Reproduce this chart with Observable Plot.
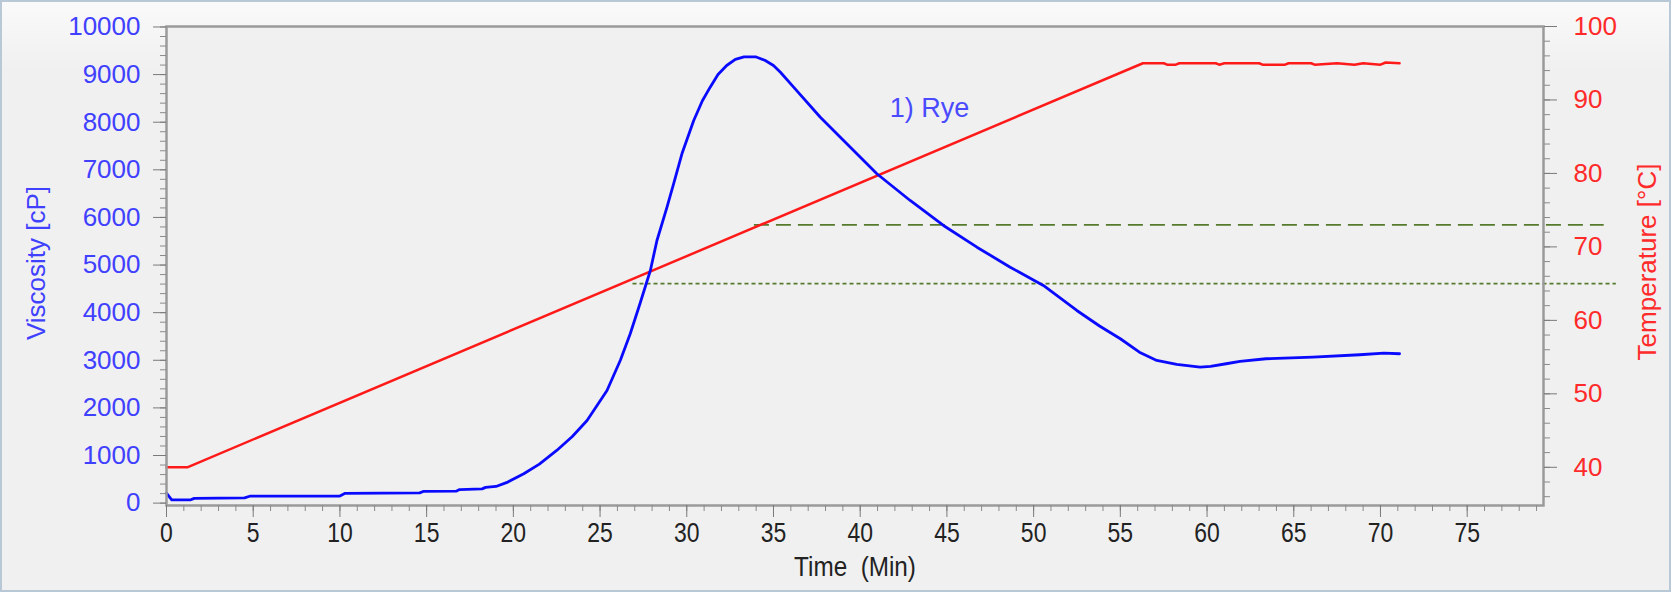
<!DOCTYPE html>
<html><head><meta charset="utf-8">
<script src="https://cdn.jsdelivr.net/npm/d3@7"></script>
<script src="https://cdn.jsdelivr.net/npm/@observablehq/plot@0.6"></script>
<style>
html,body{margin:0;padding:0;background:#f0f0f0;}
#wrap{position:relative;width:1671px;height:592px;background:linear-gradient(#fafafa,#f0f0f0 70px);overflow:hidden;}
#border{position:absolute;left:0;top:0;width:1671px;height:592px;box-sizing:border-box;border:2px solid #b9c8d6;pointer-events:none;}
svg text{white-space:pre;}
</style></head><body><div id="wrap"><div id="border"></div></div>
<script>
// Viscosity curve (1) Rye), time in minutes, viscosity in cP
const timeMin = [0, 0.3, 1.4, 1.6, 4.5, 4.8, 10.0, 10.3, 14.6, 14.8, 16.7, 16.9, 18.2, 18.4, 19.0, 19.6, 20.6, 21.5, 22.5, 23.4, 24.25, 25.4, 26.17, 26.74, 27.3, 27.9, 28.28, 28.86, 29.24, 29.72, 30.4, 30.9, 31.35, 31.8, 32.3, 32.8, 33.3, 34.0, 34.5, 35.0, 35.4, 36.16, 37.7, 39.04, 40.96, 42.88, 44.8, 46.73, 48.65, 50.56, 52.49, 53.8, 55.0, 56.1, 57.1, 58.25, 59.6, 60.2, 61.1, 61.9, 63.4, 66.1, 68.8, 70.2, 71.1];
const viscosity = [210, 70, 70, 100, 110, 145, 150, 205, 215, 245, 250, 285, 300, 330, 350, 430, 617, 820, 1106, 1400, 1736, 2366, 3000, 3557, 4187, 4886, 5516, 6215, 6707, 7337, 8036, 8450, 8736, 9000, 9191, 9320, 9370, 9370, 9300, 9191, 9050, 8736, 8105, 7616, 6917, 6356, 5831, 5375, 4955, 4571, 4046, 3720, 3452, 3170, 2996, 2912, 2855, 2870, 2927, 2975, 3032, 3065, 3116, 3149, 3137];
// Temperature profile
const tempTime = [0, 1.2, 56.3, 57.5, 57.7, 58.2, 58.4, 60.5, 60.7, 61.0, 63.0, 63.2, 64.5, 64.7, 66.0, 66.2, 67.5, 68.5, 69.0, 70.0, 70.3, 71.1];
const temperature = [40, 40, 95, 95, 94.8, 94.8, 95, 95, 94.8, 95, 95, 94.8, 94.8, 95, 95, 94.8, 95, 94.8, 95, 94.8, 95.1, 95];
// Reference temperature lines (dashed, dotted)
const refTemp = [73, 65];
const refFrom = [33.9, 26.9];
const refTo = [82.9, 83.6];
const refDash = ["15,7", "4,3"];
// Ticks and labels
const xTicks = [0, 5, 10, 15, 20, 25, 30, 35, 40, 45, 50, 55, 60, 65, 70, 75];
const viscTicks = [0, 1000, 2000, 3000, 4000, 5000, 6000, 7000, 8000, 9000, 10000];
const tempTicks = [40, 50, 60, 70, 80, 90, 100];
const seriesLabel = ["1) Rye"];
const seriesLabelPos = [44.0, 8290];
const xTitle = "Time  (Min)";
const yTitle = "Viscosity [cP]";
const y2Title = "Temperature [°C]";

const V0 = -50, V1 = 10010, T0 = 34.8, T1 = 100;
const tv = T => V0 + (T - T0) / (T1 - T0) * (V1 - V0);
const vt = v => T0 + (v - V0) / (V1 - V0) * (T1 - T0);

const visc = timeMin.map((t, i) => ({t, v: viscosity[i]}));
const temp = tempTime.map((t, i) => ({t, v: tv(temperature[i])}));
const refs = refTemp.map((T, i) => ({v: tv(T), x1: refFrom[i], x2: refTo[i], dash: refDash[i]}));

const font = "'Liberation Sans', Arial, sans-serif";
const chart = Plot.plot({
  width: 1671, height: 592,
  marginLeft: 166, marginRight: 128, marginTop: 26, marginBottom: 87,
  style: {background: "transparent", fontFamily: font, overflow: "visible"},
  x: {domain: [0, 79.4]},
  y: {domain: [V0, V1]},
  marks: [
    Plot.frame({fill: "#f0f0f0", stroke: "none"}),
    Plot.ruleY([refs[0]], {y: "v", x1: "x1", x2: "x2", stroke: "#557a2c", strokeWidth: 1.8, strokeDasharray: refs[0].dash}),
    Plot.ruleY([refs[1]], {y: "v", x1: "x1", x2: "x2", stroke: "#557a2c", strokeWidth: 1.8, strokeDasharray: refs[1].dash}),
    Plot.line(temp, {x: "t", y: "v", stroke: "#ff1a1a", strokeWidth: 2.5}),
    Plot.line(visc, {x: "t", y: "v", stroke: "#0a0aff", strokeWidth: 2.8}),
    Plot.frame({stroke: "#9a9a9a", strokeWidth: 2.5}),
    // bottom axis
    Plot.axisX({ticks: d3.range(0, 80, 1), tickSize: 6, tickFormat: () => "", stroke: "#8a8a8a", label: null}),
    Plot.axisX({ticks: xTicks, tickSize: 12, tickPadding: 5, fontSize: 28, fill: "#222", stroke: "#7a7a7a", label: null}),
    // left axis
    Plot.axisY({ticks: d3.range(0, 10001, 200), tickSize: 6, tickFormat: () => "", stroke: "#8a8a8a", label: null}),
    Plot.axisY({ticks: viscTicks, tickSize: 13, tickPadding: 13, fontSize: 26, fill: "#4040ff", stroke: "#7a7a7a", tickFormat: d => String(d), label: null}),
    // right axis
    Plot.axisY({anchor: "right", ticks: d3.range(36, 101, 2).map(tv), tickSize: 6, tickFormat: () => "", stroke: "#8a8a8a", label: null}),
    Plot.axisY({anchor: "right", ticks: tempTicks.map(tv), tickSize: 13, tickPadding: 17, fontSize: 26, fill: "#ff2a2a", stroke: "#7a7a7a", tickFormat: v => String(Math.round(vt(v))), label: null}),
    // titles
    Plot.text([xTitle], {frameAnchor: "bottom", dy: 70, fontSize: 27, fill: "#222"}),
    Plot.text([yTitle], {frameAnchor: "left", dx: -130, dy: -3, rotate: -90, textAnchor: "middle", fontSize: 26, fill: "#4040ff"}),
    Plot.text([y2Title], {frameAnchor: "right", dx: 104, dy: -4, rotate: -90, textAnchor: "middle", fontSize: 26, fill: "#ff2a2a"}),
    Plot.text(seriesLabel, {x: () => seriesLabelPos[0], y: () => seriesLabelPos[1], fontSize: 27, fill: "#4a4aff"})
  ]
});
document.getElementById("wrap").insertBefore(chart, document.getElementById("border"));

// The original's bottom labels are set in a narrow face: squeeze them horizontally about their anchor.
function squeeze(nodes, sx) {
  nodes.each(function () {
    const t = this.getAttribute("transform") || "";
    const m = /translate\(\s*([-\d.e]+)/.exec(t);
    const ax = (m ? +m[1] : 0) + (+(this.getAttribute("x") || 0));
    this.setAttribute("transform", `translate(${ax},0) scale(${sx},1) translate(${-ax},0) ${t}`);
  });
}
squeeze(d3.select(chart).selectAll('g[aria-label="x-axis tick label"] text'), 0.82);
squeeze(d3.select(chart).selectAll('g[aria-label="text"] text').filter(function () { return this.textContent === xTitle; }), 0.9);
</script>
</body></html>
